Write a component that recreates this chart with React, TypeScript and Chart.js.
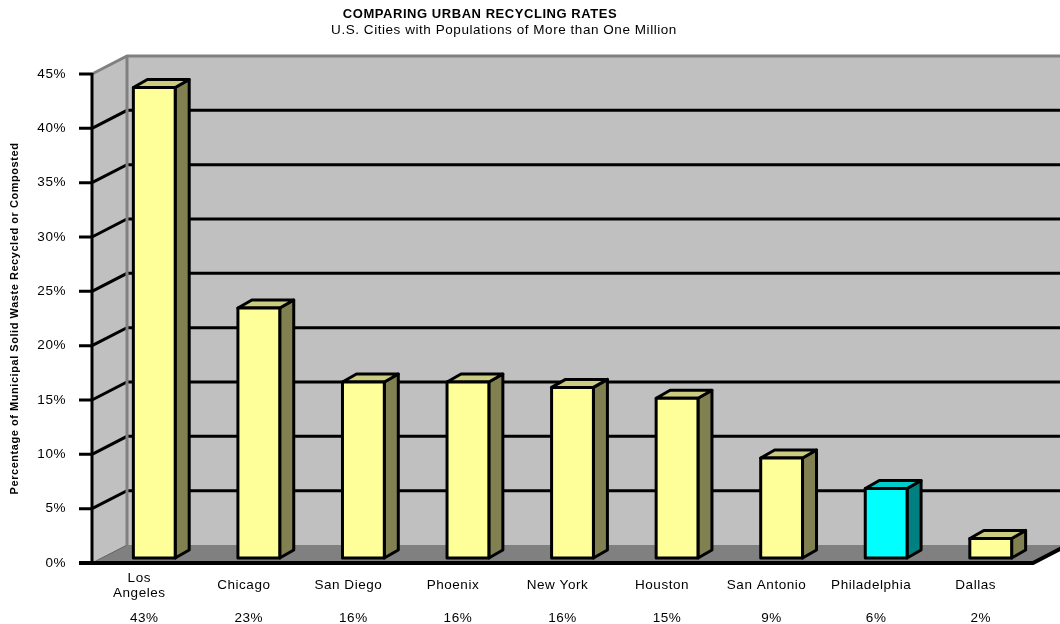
import React, { useEffect, useRef } from "react";
import { Chart, registerables } from "chart.js";

Chart.register(...registerables);

// ---- data ----
const categoryLabels: (string | string[])[] = [
  ["Los", "Angeles"],
  "Chicago",
  "San Diego",
  "Phoenix",
  "New York",
  "Houston",
  "San Antonio",
  "Philadelphia",
  "Dallas",
];
const recyclingRates = [43.3, 23.0, 16.2, 16.2, 15.7, 14.7, 9.2, 6.4, 1.8];
const percentLabels = ["43%", "23%", "16%", "16%", "16%", "15%", "9%", "6%", "2%"];
const yTickMax = 45;
const yTickStep = 5;

const titleText = "COMPARING URBAN RECYCLING RATES";
const subtitleText = "U.S. Cities with Populations of More than One Million";
const yAxisTitle = "Percentage of Municipal Solid Waste Recycled or Composted";

// ---- styles ----
const FONT = "Arial, 'Liberation Sans', sans-serif";
const LETTER_SPACING = "0.55px";
const LABEL_SIZE = 13.5;
const frontColors = ["#FFFF99", "#FFFF99", "#FFFF99", "#FFFF99", "#FFFF99", "#FFFF99", "#FFFF99", "#00FFFF", "#FFFF99"];
const sideColors = ["#808050", "#808050", "#808050", "#808050", "#808050", "#808050", "#808050", "#008080", "#808050"];
const topColors = ["#CCCC80", "#CCCC80", "#CCCC80", "#CCCC80", "#CCCC80", "#CCCC80", "#CCCC80", "#00CCCC", "#CCCC80"];
const WALL = "#C0C0C0";
const FLOOR = "#808080";
const WALL_EDGE = "#808080";
const DEPTH_X = 35;
const DEPTH_Y = -18;
const BAR_OFF_X = 10;
const BAR_OFF_Y = -5;
const BAR_DX = 14;
const BAR_DY = -8;
const TICK_LEN = 13;

function poly(ctx: CanvasRenderingContext2D, pts: number[][]) {
  ctx.beginPath();
  ctx.moveTo(pts[0][0], pts[0][1]);
  for (let i = 1; i < pts.length; i++) ctx.lineTo(pts[i][0], pts[i][1]);
  ctx.closePath();
}

const scenePlugin = {
  id: "scene3d",
  beforeInit(chart: any) {
    (chart.ctx as any).letterSpacing = LETTER_SPACING;
  },
  beforeDraw(chart: any) {
    (chart.ctx as any).letterSpacing = LETTER_SPACING;
  },
  beforeDatasetsDraw(chart: any) {
    const { ctx, chartArea } = chart;
    const { left, right, top, bottom } = chartArea;
    const y = chart.scales.y;
    const dx = DEPTH_X, dy = DEPTH_Y;
    ctx.save();
    // side wall
    ctx.fillStyle = WALL;
    poly(ctx, [[left, top], [left + dx, top + dy], [left + dx, bottom + dy], [left, bottom]]);
    ctx.fill();
    // back wall
    ctx.fillRect(left + dx, top + dy, right - left, bottom - top);
    // floor
    ctx.fillStyle = FLOOR;
    poly(ctx, [[left, bottom], [right, bottom], [right + dx, bottom + dy], [left + dx, bottom + dy]]);
    ctx.fill();
    // floor / side wall seam
    ctx.strokeStyle = "#606060";
    ctx.lineWidth = 1;
    ctx.beginPath();
    ctx.moveTo(left, bottom);
    ctx.lineTo(left + dx, bottom + dy);
    ctx.stroke();

    // gridlines
    ctx.strokeStyle = "#000";
    ctx.lineWidth = 3;
    y.ticks.forEach((t: any) => {
      const v = t.value;
      if (v <= 0 || v >= yTickMax) return;
      const py = y.getPixelForValue(v);
      ctx.beginPath();
      ctx.moveTo(left, py);
      ctx.lineTo(left + dx, py + dy);
      ctx.lineTo(right + dx, py + dy);
      ctx.stroke();
    });

    // wall edges
    ctx.strokeStyle = WALL_EDGE;
    ctx.lineWidth = 3;
    ctx.beginPath();
    ctx.moveTo(left, top);
    ctx.lineTo(left + dx, top + dy);
    ctx.lineTo(right + dx + 5, top + dy);
    ctx.moveTo(left + dx, top + dy);
    ctx.lineTo(left + dx, bottom + dy);
    ctx.stroke();

    // front axis + ticks
    ctx.strokeStyle = "#000";
    ctx.lineWidth = 3;
    ctx.beginPath();
    ctx.moveTo(left, top - 1);
    ctx.lineTo(left, bottom);
    y.ticks.forEach((t: any) => {
      const py = y.getPixelForValue(t.value);
      ctx.moveTo(left - TICK_LEN, py);
      ctx.lineTo(left, py);
    });
    ctx.stroke();
    ctx.lineWidth = 4;
    ctx.beginPath();
    ctx.moveTo(left - TICK_LEN, bottom);
    ctx.lineTo(right, bottom);
    ctx.lineTo(right + dx, bottom + dy);
    ctx.stroke();
    ctx.restore();
  },
  afterDatasetsDraw(chart: any) {
    const { ctx } = chart;
    const meta = chart.getDatasetMeta(0);
    ctx.save();
    ctx.strokeStyle = "#000";
    ctx.lineWidth = 3;
    ctx.lineJoin = "round";
    meta.data.forEach((el: any, i: number) => {
      const { x, y, base, width } = el.getProps(["x", "y", "base", "width"], true);
      const l = x - width / 2 + BAR_OFF_X;
      const r = x + width / 2 + BAR_OFF_X;
      const t = y + BAR_OFF_Y;
      const b = base + BAR_OFF_Y;
      // side
      ctx.fillStyle = sideColors[i];
      poly(ctx, [[r, t], [r + BAR_DX, t + BAR_DY], [r + BAR_DX, b + BAR_DY], [r, b]]);
      ctx.fill();
      ctx.stroke();
      // top
      ctx.fillStyle = topColors[i];
      poly(ctx, [[l, t], [l + BAR_DX, t + BAR_DY], [r + BAR_DX, t + BAR_DY], [r, t]]);
      ctx.fill();
      ctx.stroke();
      // front
      ctx.fillStyle = frontColors[i];
      poly(ctx, [[l, t], [r, t], [r, b], [l, b]]);
      ctx.fill();
      ctx.stroke();
    });
    ctx.restore();
  },
  afterDraw(chart: any) {
    const { ctx } = chart;
    ctx.save();
    (ctx as any).letterSpacing = LETTER_SPACING;
    ctx.fillStyle = "#000";
    ctx.textAlign = "center";
    ctx.textBaseline = "middle";
    ctx.font = `bold 13px ${FONT}`;
    ctx.fillText(titleText, 480, 14);
    ctx.font = `13.5px ${FONT}`;
    ctx.fillText(subtitleText, 504, 30);
    ctx.restore();
  },
};

export default function App() {
  const canvasRef = useRef<HTMLCanvasElement | null>(null);

  useEffect(() => {
    document.body.style.margin = "0";
    const canvas = canvasRef.current;
    if (!canvas) return;
    Chart.defaults.font.family = FONT;
    Chart.defaults.color = "#000";
    const chart = new Chart(canvas, {
      type: "bar",
      data: {
        labels: categoryLabels as any,
        datasets: [
          {
            label: "Recycling rate",
            data: recyclingRates,
            backgroundColor: "rgba(0,0,0,0)",
            borderWidth: 0,
            xAxisID: "x",
            yAxisID: "y",
            categoryPercentage: 1,
            barPercentage: 0.4,
          },
        ],
      },
      options: {
        animation: false,
        responsive: true,
        maintainAspectRatio: false,
        layout: { padding: { top: 74, right: 27, bottom: 0, left: 0 } },
        plugins: {
          legend: { display: false },
          tooltip: { enabled: false },
          title: { display: false },
        },
        scales: {
          y: {
            min: 0,
            max: yTickMax,
            grid: { display: false, drawTicks: false },
            border: { display: false },
            ticks: {
              stepSize: yTickStep,
              padding: 26,
              font: { size: LABEL_SIZE },
              color: "#000",
              callback: (v: any) => `${v}%`,
            },
            title: {
              display: true,
              text: yAxisTitle,
              font: { size: 11, weight: "bold" },
              color: "#000",
              padding: { top: 8, bottom: 0 },
            },
            afterFit: (s: any) => {
              s.width = 92;
            },
          },
          x: {
            type: "category",
            position: "bottom",
            weight: 0,
            grid: { display: false, drawTicks: false },
            border: { display: false },
            ticks: {
              padding: 15,
              labelOffset: -5,
              font: { size: LABEL_SIZE, lineHeight: 1.1 },
              color: "#000",
              crossAlign: "center",
              maxRotation: 0,
              autoSkip: false,
            },
            afterFit: (s: any) => {
              s.height = 40;
            },
          },
          x2: {
            type: "category",
            position: "bottom",
            weight: 1,
            labels: percentLabels,
            grid: { display: false, drawTicks: false },
            border: { display: false },
            ticks: {
              padding: 7,
              font: { size: LABEL_SIZE },
              color: "#000",
              maxRotation: 0,
              autoSkip: false,
            },
            afterFit: (s: any) => {
              s.height = 21;
            },
          },
        },
      } as any,
      plugins: [scenePlugin],
    });
    return () => chart.destroy();
  }, []);

  return (
    <div style={{ position: "relative", width: 1060, height: 624 }}>
      <canvas ref={canvasRef} />
    </div>
  );
}
